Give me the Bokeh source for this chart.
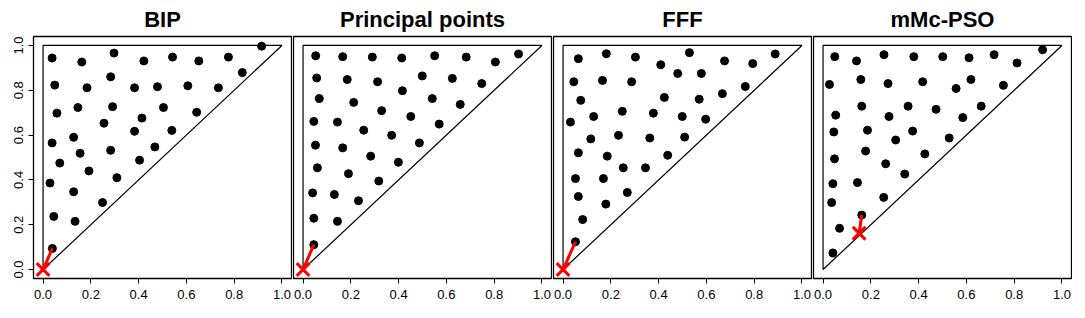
from bokeh.plotting import figure
from bokeh.layouts import row
from bokeh.models import Range1d, FixedTicker
from bokeh.embed import file_html
from bokeh.resources import INLINE

titles = ["BIP", "Principal points", "FFF", "mMc-PSO"]

tri_x = [0, 0, 1, 0]
tri_y = [0, 1, 1, 0]

bip_x = [0.038, 0.162, 0.297, 0.422, 0.542, 0.652, 0.776, 0.915,
         0.049, 0.184, 0.283, 0.383, 0.479, 0.606, 0.734, 0.834,
         0.058, 0.146, 0.291, 0.504, 0.414, 0.643, 0.255, 0.383, 0.539,
         0.038, 0.128, 0.155, 0.283, 0.468, 0.070, 0.404, 0.192, 0.309,
         0.029, 0.128, 0.249, 0.045, 0.134, 0.039]
bip_y = [0.944, 0.926, 0.966, 0.931, 0.948, 0.931, 0.948, 0.997,
         0.823, 0.811, 0.860, 0.811, 0.816, 0.820, 0.811, 0.879,
         0.698, 0.723, 0.727, 0.723, 0.676, 0.702, 0.653, 0.617, 0.621,
         0.565, 0.590, 0.519, 0.532, 0.547, 0.475, 0.488, 0.440, 0.410,
         0.386, 0.347, 0.299, 0.237, 0.215, 0.094]

pp_x = [0.053, 0.166, 0.290, 0.413, 0.551, 0.683, 0.805, 0.902,
        0.057, 0.185, 0.312, 0.499, 0.625, 0.748,
        0.068, 0.212, 0.416, 0.541, 0.658,
        0.329, 0.451, 0.570,
        0.045, 0.144, 0.254, 0.371, 0.487,
        0.052, 0.166, 0.283, 0.399,
        0.060, 0.190, 0.317,
        0.040, 0.131, 0.232,
        0.045, 0.144,
        0.045]
pp_y = [0.954, 0.950, 0.948, 0.944, 0.954, 0.948, 0.926, 0.962,
        0.855, 0.848, 0.838, 0.864, 0.853, 0.830,
        0.763, 0.746, 0.798, 0.763, 0.737,
        0.709, 0.683, 0.649,
        0.661, 0.658, 0.622, 0.599, 0.565,
        0.555, 0.543, 0.506, 0.479,
        0.454, 0.428, 0.395,
        0.342, 0.335, 0.307,
        0.229, 0.215,
        0.111]

fff_x = [0.064, 0.181, 0.303, 0.409, 0.529, 0.676, 0.794, 0.888,
         0.045, 0.165, 0.287, 0.480, 0.579, 0.667, 0.763,
         0.074, 0.424, 0.570,
         0.031, 0.128, 0.248, 0.378, 0.499, 0.597,
         0.116, 0.232, 0.363, 0.509,
         0.064, 0.185, 0.438,
         0.252, 0.345,
         0.052, 0.169,
         0.064, 0.269,
         0.179, 0.082, 0.052]
fff_y = [0.941, 0.963, 0.948, 0.914, 0.968, 0.931, 0.919, 0.962,
         0.838, 0.844, 0.838, 0.875, 0.875, 0.785, 0.817,
         0.755, 0.768, 0.760,
         0.658, 0.683, 0.706, 0.698, 0.683, 0.671,
         0.583, 0.599, 0.587, 0.591,
         0.521, 0.506, 0.510,
         0.454, 0.454,
         0.406, 0.406,
         0.326, 0.344,
         0.292, 0.223, 0.124]

pso_x = [0.049, 0.140, 0.255, 0.380, 0.501, 0.611, 0.716, 0.812, 0.919,
         0.027, 0.158, 0.272, 0.417, 0.557, 0.619, 0.755,
         0.053, 0.162, 0.276, 0.356, 0.473, 0.585, 0.662,
         0.045, 0.186, 0.304, 0.375, 0.528,
         0.178, 0.048, 0.426,
         0.262, 0.342,
         0.041, 0.144,
         0.036, 0.254,
         0.162, 0.069, 0.041]
pso_y = [0.950, 0.931, 0.959, 0.950, 0.950, 0.945, 0.959, 0.922, 0.981,
         0.826, 0.848, 0.830, 0.838, 0.808, 0.848, 0.822,
         0.689, 0.729, 0.683, 0.729, 0.715, 0.678, 0.729,
         0.614, 0.622, 0.578, 0.618, 0.587,
         0.529, 0.494, 0.516,
         0.472, 0.426,
         0.383, 0.388,
         0.299, 0.322,
         0.243, 0.184, 0.074]

# red cross (location) and the nearest design point it is linked to
cross_x = [0.0, 0.0, 0.0, 0.151]
cross_y = [0.0, 0.0, 0.0, 0.162]
near_x = [0.039, 0.045, 0.052, 0.162]
near_y = [0.094, 0.111, 0.124, 0.243]

pts = [(bip_x, bip_y), (pp_x, pp_y), (fff_x, fff_y), (pso_x, pso_y)]
ticks = [0.0, 0.2, 0.4, 0.6, 0.8, 1.0]
tick_labels = {t: "%.1f" % t for t in ticks}

FONT = "Liberation Sans"
figs = []
for i, title in enumerate(titles):
    first = (i == 0)
    w = 292 if first else 260
    p = figure(width=w, height=306, output_backend="svg", toolbar_location=None,
               x_range=Range1d(-0.04, 1.04), y_range=Range1d(-0.04, 1.04),
               title=title,
               min_border_left=33 if first else 1, min_border_right=1,
               min_border_top=34, min_border_bottom=28)
    p.title.align = "center"
    p.title.text_font = FONT
    p.title.text_font_style = "bold"
    p.title.text_font_size = "22px"
    p.title.text_color = "black"
    p.title.offset = 0
    p.title.standoff = 9
    p.grid.visible = False
    p.outline_line_color = "black"
    p.outline_line_width = 1.3
    p.outline_line_alpha = 1
    p.background_fill_color = "white"
    p.border_fill_color = "white"

    ax = p.xaxis[0]
    ax.ticker = FixedTicker(ticks=ticks)
    ax.major_label_overrides = tick_labels
    ax.axis_line_color = None
    ax.major_tick_in = 0
    ax.major_tick_out = 5
    ax.minor_tick_line_color = None
    ax.major_tick_line_color = "black"
    ax.major_label_text_font = FONT
    ax.major_label_text_font_size = "13px"
    ax.major_label_text_color = "black"
    ax.major_label_standoff = 6

    ay = p.yaxis[0]
    if first:
        ay.ticker = FixedTicker(ticks=ticks)
        ay.major_label_overrides = tick_labels
        ay.axis_line_color = None
        ay.major_tick_in = 0
        ay.major_tick_out = 5
        ay.minor_tick_line_color = None
        ay.major_tick_line_color = "black"
        ay.major_label_text_font = FONT
        ay.major_label_text_font_size = "13px"
        ay.major_label_text_color = "black"
        ay.major_label_orientation = "vertical"
        ay.major_label_standoff = 5
    else:
        ay.visible = False

    p.line(tri_x, tri_y, line_color="black", line_width=1.2)
    xs, ys = pts[i]
    p.scatter(xs, ys, size=8, marker="circle", fill_color="black", line_color="black")
    p.line([cross_x[i], near_x[i]], [cross_y[i], near_y[i]], line_color="red", line_width=3)
    p.scatter([cross_x[i]], [cross_y[i]], marker="x", size=18, line_color="red", line_width=3)
    figs.append(p)

layout = row(*figs, spacing=0)
open("out.html", "w").write(file_html(layout, INLINE))
